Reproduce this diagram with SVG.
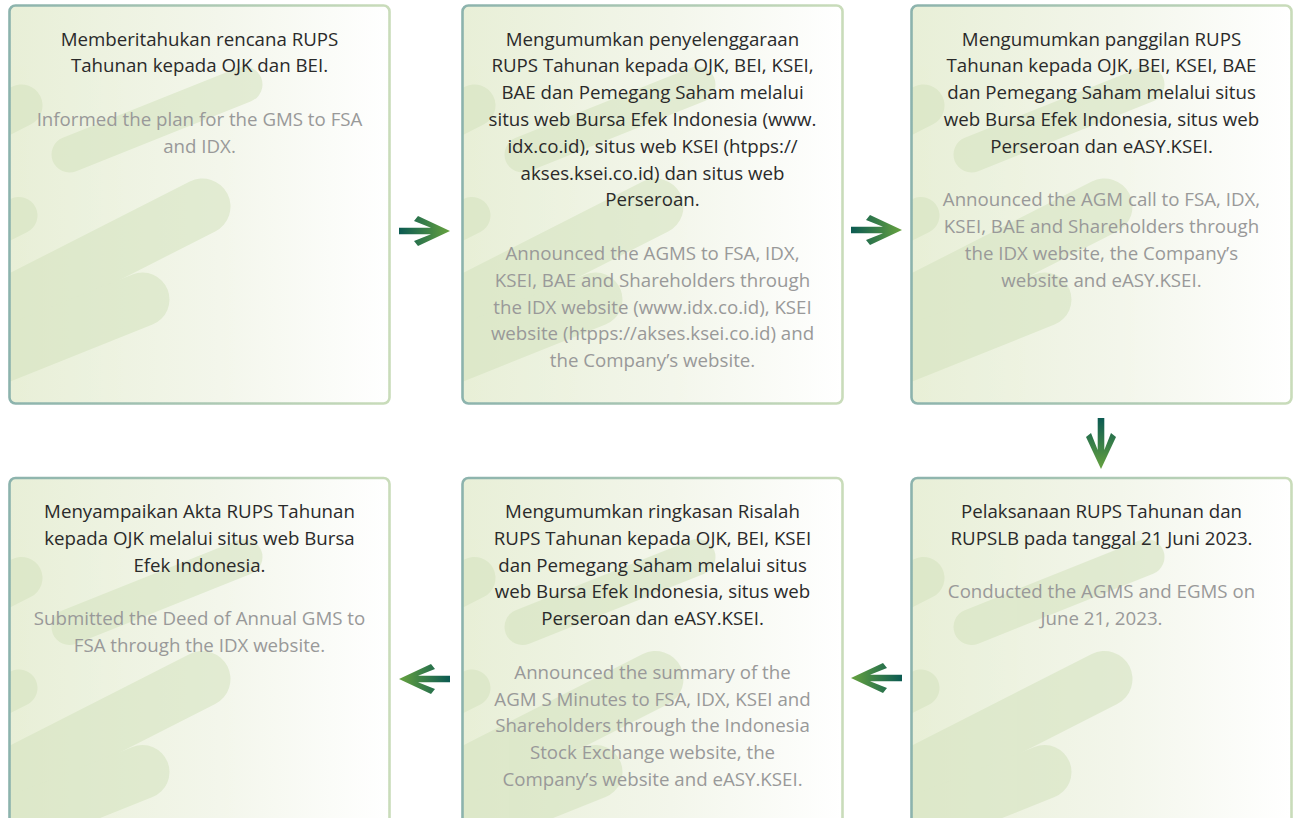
<svg xmlns="http://www.w3.org/2000/svg" xmlns:xlink="http://www.w3.org/1999/xlink" width="1297" height="818" viewBox="0 0 1297 818">
<defs>
<linearGradient id="bg" x1="0" y1="0" x2="1" y2="0">
<stop offset="0" stop-color="#e8efd7"/>
<stop offset="0.55" stop-color="#f3f6eb"/>
<stop offset="1" stop-color="#ffffff"/>
</linearGradient>
<linearGradient id="bd" x1="0" y1="0" x2="1" y2="0">
<stop offset="0" stop-color="#8cb3ad"/>
<stop offset="1" stop-color="#c9dcba"/>
</linearGradient>
<linearGradient id="ag" x1="0" y1="0" x2="1" y2="0">
<stop offset="0" stop-color="#0b5a52"/>
<stop offset="1" stop-color="#66a23f"/>
</linearGradient>
<clipPath id="clip"><rect x="0" y="0" width="380" height="398" rx="6"/></clipPath>
<g id="deco" fill="none" stroke="#d3e2bd" stroke-linecap="round" opacity="0.55">
<line x1="60" y1="149" x2="235" y2="79" stroke-width="36"/>
<line x1="12" y1="100" x2="-100" y2="157" stroke-width="42"/>
<line x1="9.5" y1="210" x2="-100" y2="265" stroke-width="37"/>
<line x1="193" y1="201" x2="-100" y2="350" stroke-width="56"/>
<line x1="133" y1="294" x2="-150" y2="407" stroke-width="54"/>
</g>
<g id="box">
<rect x="0" y="0" width="380" height="398" rx="6" fill="url(#bg)"/>
<use xlink:href="#deco" clip-path="url(#clip)"/>
<rect x="0" y="0" width="380" height="398" rx="6" fill="none" stroke="url(#bd)" stroke-width="2.6"/>
</g>
<polygon id="arr" points="0,-3.3 32,-3.3 15,-10 19,-15 51,0 19,15 15,10 32,3.3 0,3.3" fill="url(#ag)"/>
</defs>
<style>
text{font-family:"Open Sans","Noto Sans","DejaVu Sans",sans-serif;font-size:18.7px;text-anchor:middle}
.id{fill:#2a2a2a}
.en{fill:#999999}
</style>

<g id="n1" transform="translate(9.5,5.5)">
<use xlink:href="#box"/>
<text class="id" x="190" y="40">Memberitahukan rencana RUPS</text>
<text class="id" x="190" y="66.8">Tahunan kepada OJK dan BEI.</text>
<text class="en" x="190" y="120.4">Informed the plan for the GMS to FSA</text>
<text class="en" x="190" y="147.2">and IDX.</text>
</g>

<g id="n2" transform="translate(462.5,5.5)">
<use xlink:href="#box"/>
<text class="id" x="190" y="40">Mengumumkan penyelenggaraan</text>
<text class="id" x="190" y="66.8">RUPS Tahunan kepada OJK, BEI, KSEI,</text>
<text class="id" x="190" y="93.6">BAE dan Pemegang Saham melalui</text>
<text class="id" x="190" y="120.4">situs web Bursa Efek Indonesia (www.</text>
<text class="id" x="190" y="147.2">idx.co.id), situs web KSEI (htpps://</text>
<text class="id" x="190" y="174">akses.ksei.co.id) dan situs web</text>
<text class="id" x="190" y="200.8">Perseroan.</text>
<text class="en" x="190" y="254.4">Announced the AGMS to FSA, IDX,</text>
<text class="en" x="190" y="281.2">KSEI, BAE and Shareholders through</text>
<text class="en" x="190" y="308">the IDX website (www.idx.co.id), KSEI</text>
<text class="en" x="190" y="334.8">website (htpps://akses.ksei.co.id) and</text>
<text class="en" x="190" y="361.6">the Company’s website.</text>
</g>

<g id="n3" transform="translate(911.5,5.5)">
<use xlink:href="#box"/>
<text class="id" x="190" y="40">Mengumumkan panggilan RUPS</text>
<text class="id" x="190" y="66.8">Tahunan kepada OJK, BEI, KSEI, BAE</text>
<text class="id" x="190" y="93.6">dan Pemegang Saham melalui situs</text>
<text class="id" x="190" y="120.4">web Bursa Efek Indonesia, situs web</text>
<text class="id" x="190" y="147.2">Perseroan dan eASY.KSEI.</text>
<text class="en" x="190" y="200.8">Announced the AGM call to FSA, IDX,</text>
<text class="en" x="190" y="227.6">KSEI, BAE and Shareholders through</text>
<text class="en" x="190" y="254.4">the IDX website, the Company’s</text>
<text class="en" x="190" y="281.2">website and eASY.KSEI.</text>
</g>

<g id="n4" transform="translate(911.5,478)">
<use xlink:href="#box"/>
<text class="id" x="190" y="40">Pelaksanaan RUPS Tahunan dan</text>
<text class="id" x="190" y="66.8">RUPSLB pada tanggal 21 Juni 2023.</text>
<text class="en" x="190" y="120.4">Conducted the AGMS and EGMS on</text>
<text class="en" x="190" y="147.2">June 21, 2023.</text>
</g>

<g id="n5" transform="translate(462.5,478)">
<use xlink:href="#box"/>
<text class="id" x="190" y="40">Mengumumkan ringkasan Risalah</text>
<text class="id" x="190" y="66.8">RUPS Tahunan kepada OJK, BEI, KSEI</text>
<text class="id" x="190" y="93.6">dan Pemegang Saham melalui situs</text>
<text class="id" x="190" y="120.4">web Bursa Efek Indonesia, situs web</text>
<text class="id" x="190" y="147.2">Perseroan dan eASY.KSEI.</text>
<text class="en" x="190" y="200.8">Announced the summary of the</text>
<text class="en" x="190" y="227.6">AGM S Minutes to FSA, IDX, KSEI and</text>
<text class="en" x="190" y="254.4">Shareholders through the Indonesia</text>
<text class="en" x="190" y="281.2">Stock Exchange website, the</text>
<text class="en" x="190" y="308">Company’s website and eASY.KSEI.</text>
</g>

<g id="n6" transform="translate(9.5,478)">
<use xlink:href="#box"/>
<text class="id" x="190" y="40">Menyampaikan Akta RUPS Tahunan</text>
<text class="id" x="190" y="66.8">kepada OJK melalui situs web Bursa</text>
<text class="id" x="190" y="93.6">Efek Indonesia.</text>
<text class="en" x="190" y="147.2">Submitted the Deed of Annual GMS to</text>
<text class="en" x="190" y="174">FSA through the IDX website.</text>
</g>

<g id="connectors">
<use xlink:href="#arr" transform="translate(399,231)"/>
<use xlink:href="#arr" transform="translate(851,230)"/>
<use xlink:href="#arr" transform="translate(1101,418) rotate(90)"/>
<use xlink:href="#arr" transform="translate(902,678) rotate(180)"/>
<use xlink:href="#arr" transform="translate(450,679) rotate(180)"/>
</g>
</svg>
